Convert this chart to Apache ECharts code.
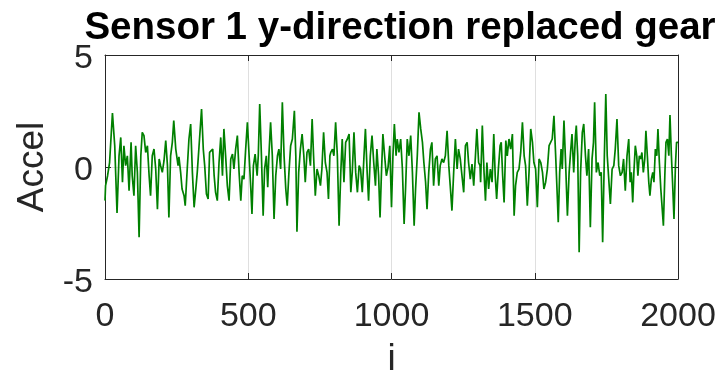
<!DOCTYPE html>
<html>
<head>
<meta charset="utf-8">
<script src="https://cdn.jsdelivr.net/npm/echarts@6/dist/echarts.min.js"></script>
<style>
  html, body { margin: 0; padding: 0; background: #ffffff; }
  #chart { width: 727px; height: 378px; }
</style>
</head>
<body>
<div id="chart"></div>
<script>
// Sample index of each reading
const sampleIndex = [
  0, 2, 9, 16, 26, 34, 42, 49, 55, 61, 66, 72, 78, 84, 91, 95, 101, 107, 113, 119,
  125, 130, 136, 142, 148, 154, 159, 165, 171, 177, 183, 189, 194, 200, 206, 212, 218, 223, 229, 235,
  240, 247, 255, 258, 264, 269, 276, 280, 287, 293, 299, 305, 311, 317, 322, 328, 333, 337, 343, 348,
  354, 360, 365, 371, 376, 381, 386, 392, 398, 404, 410, 415, 421, 427, 433, 439, 445, 450, 456, 462,
  468, 474, 479, 485, 491, 497, 503, 509, 513, 518, 524, 531, 535, 540, 546, 552, 557, 563, 568, 572,
  578, 584, 590, 596, 602, 607, 613, 619, 625, 631, 636, 642, 648, 654, 661, 666, 670, 676, 682, 688,
  694, 699, 705, 711, 717, 723, 728, 734, 740, 746, 752, 757, 763, 769, 775, 780, 785, 788, 794, 799,
  805, 811, 817, 823, 828, 834, 840, 846, 852, 858, 863, 869, 875, 881, 887, 892, 898, 904, 909, 915,
  920, 926, 932, 938, 944, 949, 955, 960, 965, 970, 976, 982, 988, 994, 1000, 1005, 1010, 1016, 1020, 1026,
  1032, 1038, 1044, 1049, 1055, 1061, 1067, 1073, 1079, 1084, 1090, 1096, 1102, 1108, 1113, 1119, 1124, 1130, 1136, 1141,
  1147, 1153, 1159, 1165, 1170, 1176, 1182, 1188, 1194, 1200, 1205, 1211, 1217, 1223, 1229, 1234, 1240, 1246, 1252, 1258,
  1264, 1269, 1275, 1281, 1287, 1293, 1298, 1304, 1309, 1311, 1317, 1323, 1328, 1333, 1339, 1345, 1351, 1357, 1362, 1367,
  1373, 1379, 1383, 1388, 1393, 1399, 1404, 1410, 1416, 1422, 1428, 1433, 1439, 1445, 1451, 1457, 1463, 1468, 1474, 1480,
  1486, 1492, 1497, 1503, 1509, 1515, 1521, 1527, 1532, 1538, 1544, 1550, 1556, 1561, 1567, 1573, 1579, 1582, 1587, 1592,
  1596, 1602, 1608, 1614, 1620, 1625, 1630, 1636, 1642, 1645, 1650, 1655, 1660, 1666, 1671, 1677, 1682, 1688, 1694, 1700,
  1705, 1709, 1715, 1721, 1727, 1732, 1737, 1743, 1748, 1753, 1759, 1764, 1770, 1776, 1781, 1787, 1793, 1799, 1805, 1810,
  1816, 1822, 1828, 1833, 1837, 1842, 1846, 1851, 1856, 1860, 1865, 1870, 1874, 1879, 1884, 1888, 1893, 1898, 1902, 1907,
  1912, 1916, 1921, 1926, 1930, 1935, 1940, 1944, 1949, 1954, 1958, 1963, 1968, 1972, 1977, 1981, 1986, 1991, 1995, 2000
];

// Acceleration reading at each sample
const accel = [
  -1.50, -0.83, -0.39, 0.20, 2.41, 0.95, -2.05, 0.50, 1.32, -0.68, 0.95, 0.06, 0.50, -1.06, 1.10, -0.39, -1.28, 0.95, -0.24, -3.14,
  0.50, 1.55, 1.40, 0.65, 0.95, -0.39, -1.28, 0.50, 0.80, -0.09, -1.88, 0.36, 0.06, -0.24, 0.28, 1.18, 0.06, -2.25, 0.50, 1.10,
  2.07, 0.80, 0.06, 0.45, -0.24, -0.98, -1.28, -1.73, -0.09, 1.25, 1.92, -0.24, -1.80, -0.98, -0.24, 0.88, 0.80, 2.59, 0.80, 0.06,
  -1.20, -1.43, 0.65, 0.73, 0.80, -0.39, -1.13, -1.50, 0.20, 1.32, -0.39, 1.70, 0.50, -0.83, -1.50, 0.36, 0.58, -0.09, 0.80, 1.40,
  -0.24, -1.50, -0.39, -0.54, 0.80, 2.00, 0.50, -0.98, -2.10, 0.06, 0.58, -0.39, 0.50, 2.81, 0.50, -2.17, -0.09, 0.50, -0.90, 0.50,
  2.00, 0.50, -2.32, -0.39, 0.50, 0.80, -0.09, 2.89, 0.50, -0.98, -1.73, -0.24, 0.95, 1.25, 2.51, 0.50, -2.89, -0.24, 0.80, 1.47,
  0.50, -0.68, 0.65, 0.80, 0.06, 2.14, 0.50, -1.28, -0.09, -0.39, -0.83, -0.09, 1.55, 0.20, -0.24, -1.43, 0.50, 0.65, 0.80, 0.50,
  2.00, 0.50, -2.62, -0.24, 1.25, -0.68, 1.10, 1.25, 1.47, -1.13, -0.24, 1.55, -0.24, -1.13, 0.06, -0.09, -1.13, 0.50, 1.70, -0.24,
  -1.50, 0.50, 1.40, 0.20, -0.83, 0.80, -0.39, -2.25, -0.24, 1.47, 0.50, -0.39, -0.01, 0.95, -1.80, 0.50, 1.92, 0.50, 1.25, 0.65,
  1.25, -0.09, -2.54, -0.98, 1.25, 0.50, 1.40, -0.24, -2.62, -0.98, 0.50, 2.44, 1.70, 1.10, 0.20, -0.68, -1.88, -0.24, 0.80, 1.10,
  -0.83, 0.36, 0.50, -0.83, 0.06, 0.36, 0.20, 0.50, 1.62, 0.06, -0.83, -1.95, -0.24, 1.25, -0.09, 0.80, 0.36, -0.39, -1.13, 0.95,
  1.10, 0.20, -0.54, 0.13, -0.83, 0.50, 1.70, 0.20, 0.06, -0.68, 1.85, -0.24, -1.50, 0.20, -0.98, -0.09, -0.68, 1.47, -0.39, -1.43,
  -0.09, 0.95, 1.10, -0.39, -1.58, 1.18, 0.50, 1.25, 0.80, 1.47, -2.17, -0.83, -0.24, -0.09, 0.65, 2.00, 0.50, 0.06, -1.73, -0.24,
  1.70, 1.10, 0.20, -0.09, -1.80, 0.36, 0.20, -0.24, -0.98, -0.68, -0.09, 0.95, 0.88, 1.25, 2.29, 0.50, -1.43, -2.47, -0.24, 0.80,
  -0.09, 2.07, 0.06, -2.17, -0.24, 0.65, 1.47, -0.24, 1.40, 1.85, 0.50, -3.81, -0.24, 1.55, 1.92, 0.50, -0.39, 0.80, -2.69, 0.36,
  1.10, 2.89, -0.24, 0.20, -0.39, -0.24, -3.36, 0.50, 3.26, 0.50, -0.68, -1.65, -0.09, 0.06, 0.80, 2.14, 0.06, -0.39, -0.24, 0.36,
  -1.06, 0.50, 1.25, -0.68, -0.24, -1.58, -0.24, 0.95, 0.50, -0.39, 0.50, 0.36, 0.65, -0.24, 0.36, 1.62, 0.50, -0.68, -1.28, -0.54,
  -0.24, -0.68, 0.80, 0.50, 1.70, 0.20, -0.98, -0.98, -2.62, -0.39, 1.10, 1.25, 0.50, 2.32, 0.50, -0.68, -2.32, 0.06, 1.10, 1.10
];

// Axis tick values
const xTicks = [0, 500, 1000, 1500, 2000];
const yTicks = [-5, 0, 5];

const points = sampleIndex.map((i, k) => [i, accel[k]]);

const axisColor = '#262626';
const fontFamily = '"Liberation Sans", Arial, Helvetica, sans-serif';

const chart = echarts.init(document.getElementById('chart'), null, { renderer: 'canvas' });

const baseX = {
  type: 'value',
  min: xTicks[0],
  max: xTicks[xTicks.length - 1],
  interval: xTicks[1] - xTicks[0],
  axisLine: { show: true, onZero: false, lineStyle: { color: axisColor, width: 1 } },
  axisTick: { show: true, inside: true, length: 6, lineStyle: { color: axisColor } }
};
const baseY = {
  type: 'value',
  min: yTicks[0],
  max: yTicks[yTicks.length - 1],
  interval: yTicks[1] - yTicks[0],
  axisLine: { show: true, onZero: false, lineStyle: { color: axisColor, width: 1 } },
  axisTick: { show: true, inside: true, length: 6, lineStyle: { color: axisColor } }
};

chart.setOption({
  animation: false,
  backgroundColor: '#ffffff',
  title: {
    text: 'Sensor 1 y-direction replaced gear',
    left: 395,
    textAlign: 'center',
    top: 4,
    textStyle: { fontFamily, fontSize: 38.5, fontWeight: 'bold', color: '#000000' }
  },
  grid: {
    left: 105, right: 49, top: 55, bottom: 99,
    containLabel: false,
    outerBoundsMode: 'none'
  },
  xAxis: [
    Object.assign({}, baseX, {
      position: 'bottom',
      name: 'i',
      nameLocation: 'middle',
      nameGap: 62,
      nameTextStyle: { fontFamily, fontSize: 37, color: axisColor },
      axisLabel: {
        fontFamily, fontSize: 34, color: axisColor, margin: 21,
        formatter: (v) => String(v)
      },
      splitLine: { show: true, lineStyle: { color: '#dfdfdf', width: 1 } }
    }),
    Object.assign({}, baseX, {
      position: 'top',
      axisLabel: { show: false },
      splitLine: { show: false }
    })
  ],
  yAxis: [
    Object.assign({}, baseY, {
      position: 'left',
      name: 'Accel',
      nameLocation: 'middle',
      nameGap: 54,
      nameRotate: 90,
      nameTextStyle: { fontFamily, fontSize: 37, color: axisColor },
      axisLabel: {
        fontFamily, fontSize: 34, color: axisColor, margin: 12,
        verticalAlign: 'top',
        lineHeight: 8,
        formatter: (v) => String(v)
      },
      splitLine: { show: true, lineStyle: { color: '#dfdfdf', width: 1 } }
    }),
    Object.assign({}, baseY, {
      position: 'right',
      axisLabel: { show: false },
      splitLine: { show: false }
    })
  ],
  series: [{
    type: 'line',
    data: points,
    xAxisIndex: 0,
    yAxisIndex: 0,
    showSymbol: false,
    symbol: 'none',
    lineStyle: { color: '#008000', width: 1.7 },
    z: 3
  }]
});
</script>
</body>
</html>
